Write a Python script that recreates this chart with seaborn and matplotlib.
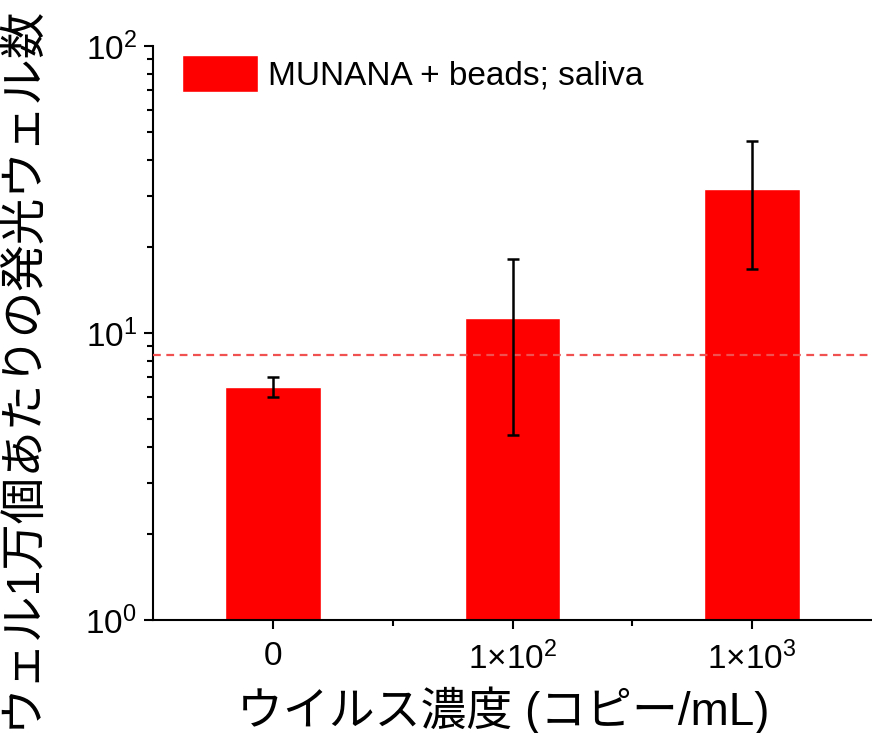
import numpy as np
import pandas as pd
import matplotlib
matplotlib.use("Agg")
import matplotlib.pyplot as plt
from matplotlib.ticker import FixedLocator, FixedFormatter, LogLocator, NullFormatter
import seaborn as sns

# Data
categories = ["0", "1×10²", "1×10³"]
tick_labels = [r"$\mathregular{0}$", r"$\mathregular{1{\times}10^{2}}$", r"$\mathregular{1{\times}10^{3}}$"]
means = [6.5, 11.3, 31.7]
err_low = [6.0, 4.4, 16.7]
err_high = [7.05, 18.1, 46.7]
threshold = 8.4
series_name = "MUNANA + beads; saliva"

sns.set_theme(style="ticks")
plt.rcParams["font.family"] = ["Liberation Sans", "Noto Sans CJK JP"]
plt.rcParams["mathtext.fontset"] = "custom"
plt.rcParams["mathtext.rm"] = "Liberation Sans"
plt.rcParams["text.color"] = "black"

df = pd.DataFrame({"conc": categories, "count": means})

fig = plt.figure(figsize=(8.72, 7.33), dpi=100)
ax = fig.add_axes([0.1755, 0.1542, 0.8245, 0.7830])

sns.barplot(data=df, x="conc", y="count", color="#ff0000", saturation=1,
            width=0.4, errorbar=None, ax=ax, label=series_name, zorder=2)

xpos = np.arange(len(categories))
m = np.array(means)
yerr = np.vstack([m - np.array(err_low), np.array(err_high) - m])
ax.errorbar(xpos, m, yerr=yerr, fmt="none", ecolor="black", elinewidth=1.8,
            capsize=4.5, capthick=1.8, zorder=4)

ax.axhline(threshold, color="#f05050", lw=1.6, ls=(0, (3.5, 2.5)), zorder=3)

ax.set_yscale("log")
ax.set_ylim(1, 100)
ax.set_xlim(-0.5, 2.5)

ax.yaxis.set_major_locator(FixedLocator([1, 10, 100]))
ax.yaxis.set_major_formatter(FixedFormatter([r"$\mathregular{10^{0}}$",
                                             r"$\mathregular{10^{1}}$",
                                             r"$\mathregular{10^{2}}$"]))
ax.yaxis.set_minor_locator(LogLocator(base=10, subs=np.arange(2, 10)))
ax.yaxis.set_minor_formatter(NullFormatter())

ax.xaxis.set_major_locator(FixedLocator(xpos))
ax.xaxis.set_major_formatter(FixedFormatter(tick_labels))
ax.xaxis.set_minor_locator(FixedLocator([0.5, 1.5]))

ax.tick_params(axis="both", which="major", direction="out", length=6.5, width=1.5,
               labelsize=24, color="black", labelcolor="black")
ax.tick_params(axis="x", which="major", pad=9)
ax.tick_params(axis="y", which="major", pad=5)
ax.tick_params(axis="both", which="minor", direction="out", length=4, width=1.5,
               color="black")

for side in ["top", "right"]:
    ax.spines[side].set_visible(False)
for side in ["left", "bottom"]:
    ax.spines[side].set_color("black")
    ax.spines[side].set_linewidth(1.5)

ax.set_ylabel("")
ax.set_xlabel("ウイルス濃度 (コピー/mL)", fontsize=33, labelpad=6, color="black")
ax.xaxis.set_label_coords(0.487, -0.115)
fig.text(0.025, 0.5, "ウェル1万個あたりの発光ウェル数", rotation=90, fontsize=33.5,
         ha="center", va="center", color="black")

leg = ax.legend(loc="upper left", bbox_to_anchor=(0.012, 1.02), frameon=False, fontsize=24,
                handlelength=2.3, handleheight=1.35, handletextpad=0.3, borderaxespad=0.2)
for t in leg.get_texts():
    t.set_color("black")

fig.savefig("out.png", dpi=100, facecolor="white")
